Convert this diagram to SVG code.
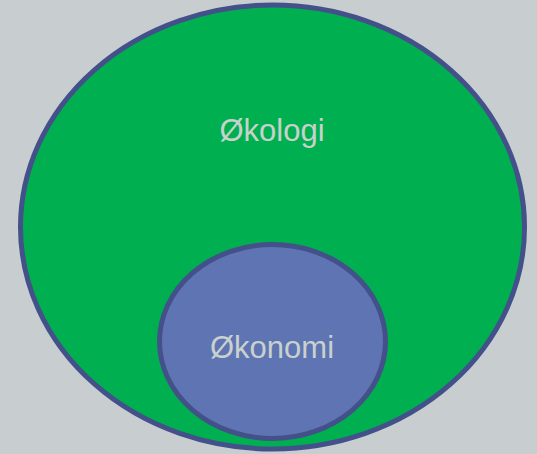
<svg xmlns="http://www.w3.org/2000/svg" width="537" height="454" viewBox="0 0 537 454">
<style>
.lbl{font-family:"Liberation Sans",Arial,sans-serif;font-size:31px;fill:#c9d1cd;text-anchor:middle}
.ring{stroke:#43508a;stroke-width:5}
</style>
<rect width="537" height="454" fill="#c8cdd0"/>
<g id="okologi">
<ellipse class="ring" cx="272.5" cy="227" rx="252" ry="222" fill="#00b050"/>
<text class="lbl" x="272" y="141">Økologi</text>
</g>
<g id="okonomi">
<ellipse class="ring" cx="272.5" cy="341.5" rx="113" ry="97" fill="#5f74b3"/>
<text class="lbl" x="272" y="358">Økonomi</text>
</g>
<g id="connectors"/>
</svg>
